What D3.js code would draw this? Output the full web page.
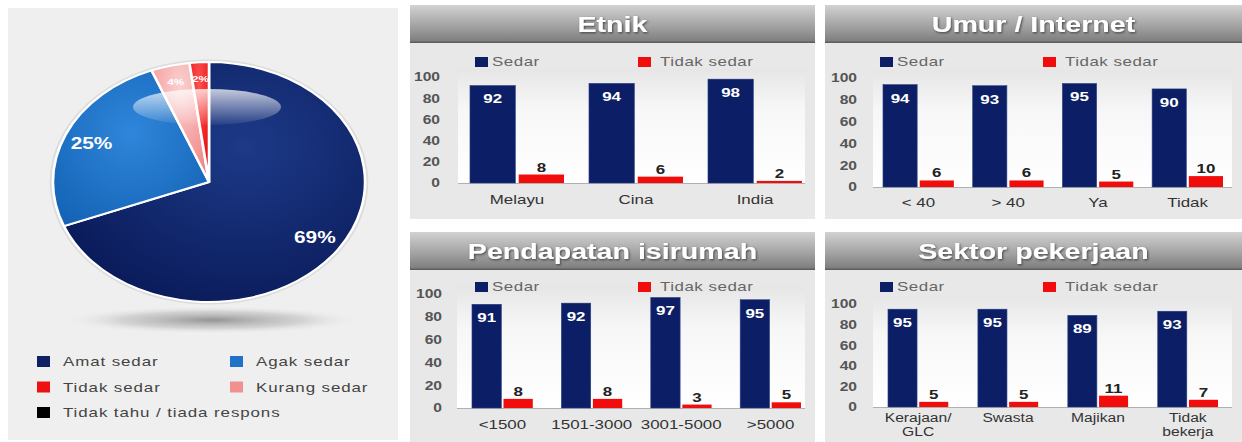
<!DOCTYPE html>
<html><head><meta charset="utf-8">
<script src="https://cdn.jsdelivr.net/npm/d3@7"></script>
<style>html,body{margin:0;padding:0;background:#fff;overflow:hidden}svg{display:block}</style>
</head><body><div id="chart"></div>
<script>
// ---------- DATA ----------
const pieLabels = ["Amat sedar", "Agak sedar", "Kurang sedar", "Tidak sedar", "Tidak tahu / tiada respons"];
const pieValues = [69, 25, 4, 2, 0];
const pieValueText = ["69%", "25%", "4%", "2%", ""];
const legendOrder = [0, 1, 3, 2, 4];

const seriesNames = ["Sedar", "Tidak sedar"];
const yTicks = [0, 20, 40, 60, 80, 100];

const etnikCats = ["Melayu", "Cina", "India"];
const etnikSedar = [92, 94, 98];
const etnikTidak = [8, 6, 2];

const umurCats = ["< 40", "> 40", "Ya", "Tidak"];
const umurSedar = [94, 93, 95, 90];
const umurTidak = [6, 6, 5, 10];

const pendCats = ["<1500", "1501-3000", "3001-5000", ">5000"];
const pendSedar = [91, 92, 97, 95];
const pendTidak = [8, 8, 3, 5];

const sektorCats = ["Kerajaan/\nGLC", "Swasta", "Majikan", "Tidak\nbekerja"];
const sektorSedar = [95, 95, 89, 93];
const sektorTidak = [5, 5, 11, 7];

// ---------- SETUP ----------
const W = 1242, H = 442, VW = 955, SX = W / VW;
const X = v => v / SX;
const FONT = "'Liberation Sans', Arial, Helvetica, sans-serif";
const NAVY = "#0c1f66", RED = "#f20d0d";

const svg = d3.select("#chart").append("svg")
  .attr("width", W).attr("height", H)
  .attr("viewBox", `0 0 ${VW} ${H}`)
  .attr("preserveAspectRatio", "none")
  .style("font-family", FONT);

const defs = svg.append("defs");
function linGrad(id, stops, x2 = 0, y2 = 1) {
  const g = defs.append("linearGradient").attr("id", id)
    .attr("x1", 0).attr("y1", 0).attr("x2", x2).attr("y2", y2);
  stops.forEach(s => g.append("stop").attr("offset", s[0]).attr("stop-color", s[1]).attr("stop-opacity", s[2] == null ? 1 : s[2]));
}
function radGrad(id, stops, cx = 0.5, cy = 0.5, r = 0.6) {
  const g = defs.append("radialGradient").attr("id", id).attr("cx", cx).attr("cy", cy).attr("r", r);
  stops.forEach(s => g.append("stop").attr("offset", s[0]).attr("stop-color", s[1]).attr("stop-opacity", s[2] == null ? 1 : s[2]));
}
linGrad("hdr", [[0, "#d2d2d2"], [0.55, "#a3a3a3"], [1, "#7a7a7a"]]);
linGrad("plotbg", [[0, "#e6e6e6"], [0.35, "#f7f7f7"], [1, "#ffffff"]]);
linGrad("gloss", [[0, "#ffffff", 0.75], [1, "#ffffff", 0.05]]);
radGrad("g0", [[0, "#1d3a88"], [1, "#0a1b5a"]], 0.6, 0.35, 0.7);
radGrad("g1", [[0, "#2f86da"], [1, "#1463b6"]], 0.5, 0.4, 0.7);
radGrad("g2", [[0, "#fbd0d0"], [1, "#ef7e7e"]], 0.5, 0.2, 0.9);
radGrad("g3", [[0, "#ff5050"], [1, "#e00000"]], 0.5, 0.2, 0.9);
radGrad("g4", [[0, "#333"], [1, "#000"]]);
radGrad("shadow", [[0, "#8a8a8a", 0.9], [0.6, "#b5b5b5", 0.5], [1, "#efefef", 0]], 0.5, 0.5, 0.5);
const f = defs.append("filter").attr("id", "tshadow").attr("x", "-10%").attr("y", "-30%").attr("width", "120%").attr("height", "160%");
f.append("feDropShadow").attr("dx", 0.8).attr("dy", 1.2).attr("stdDeviation", 0.8).attr("flood-color", "#333").attr("flood-opacity", 0.8);

const pieColors = ["url(#g0)", "url(#g1)", "url(#g2)", "url(#g3)", "url(#g4)"];
const legColors = ["#0e2263", "#1e73c8", "#f29090", "#ee1111", "#000000"];

// ---------- LEFT PANEL (PIE) ----------
svg.append("rect").attr("x", X(8)).attr("y", 8).attr("width", X(390)).attr("height", 432).attr("fill", "#efefef");

const cx = X(209), cy = 182, R = 120;
svg.append("ellipse").attr("cx", X(212)).attr("cy", 320).attr("rx", X(150)).attr("ry", 14).attr("fill", "url(#shadow)");
svg.append("circle").attr("cx", cx).attr("cy", cy).attr("r", R + 2.5).attr("fill", "#dcdcdc");

const pieGen = d3.pie().sort(null).value(d => d);
const arcs = pieGen(pieValues);
const arcGen = d3.arc().innerRadius(0).outerRadius(R);
const pg = svg.append("g").attr("transform", `translate(${cx},${cy})`);
pg.selectAll("path.slice").data(arcs.filter(a => a.value > 0)).join("path")
  .attr("class", "slice")
  .attr("d", arcGen)
  .attr("fill", d => pieColors[d.index])
  .attr("stroke", "#fff").attr("stroke-width", 2).attr("stroke-linejoin", "round");
// gloss
pg.append("ellipse").attr("cx", X(-2)).attr("cy", -75).attr("rx", X(74)).attr("ry", 18).attr("fill", "url(#gloss)");

const bigLab = d3.arc().innerRadius(R * 0.82).outerRadius(R * 0.82);
const smallLab = d3.arc().innerRadius(R * 0.86).outerRadius(R * 0.86);
pg.selectAll("text.plab").data(arcs.filter(a => a.value > 0)).join("text")
  .attr("class", "plab")
  .attr("transform", d => { const c = (d.value >= 10 ? bigLab : smallLab).centroid(d); return `translate(${c[0]},${c[1]})`; })
  .attr("text-anchor", "middle").attr("dy", "0.35em")
  .attr("fill", "#fff").attr("font-weight", "bold")
  .attr("font-size", d => d.value >= 10 ? 16 : 9)
  .text(d => pieValueText[d.index]);

// pie legend
const lg = svg.append("g");
legendOrder.forEach((idx, i) => {
  const col = i % 2, row = Math.floor(i / 2);
  const sx = col === 0 ? 37 : 230, ty = 362 + row * 25.5;
  lg.append("rect").attr("x", X(sx)).attr("y", ty - 6).attr("width", X(13)).attr("height", 11).attr("fill", legColors[idx]);
  lg.append("text").attr("x", X(sx + 26)).attr("y", ty + 4.5)
    .attr("font-size", 13).attr("fill", "#444").attr("letter-spacing", 0.7)
    .text(pieLabels[idx]);
});

// ---------- BAR PANELS ----------
const panels = [
  { title: "Etnik", cats: etnikCats, s: etnikSedar, t: etnikTidak, x: 410, w: 405, hy: 5, bEnd: 219,
    axisX: [458, 805], bandX: [470, 802], pi: 0.21, y0: 183, y100: 77, legY: 62, legX: [475, 638], catY: 204, tickX: 440, lh: 14, cfs: 13 },
  { title: "Umur / Internet", cats: umurCats, s: umurSedar, t: umurTidak, x: 825, w: 417, hy: 5, bEnd: 219,
    axisX: [873, 1232], bandX: [883, 1223], pi: 0.21, y0: 187, y100: 78, legY: 62, legX: [880, 1043], catY: 207, tickX: 857, lh: 14, cfs: 13 },
  { title: "Pendapatan isirumah", cats: pendCats, s: pendSedar, t: pendTidak, x: 410, w: 405, hy: 232, bEnd: 442,
    axisX: [457, 805], bandX: [472, 801], pi: 0.32, y0: 408, y100: 294, legY: 287, legX: [475, 638], catY: 429, tickX: 442, lh: 14, cfs: 13 },
  { title: "Sektor pekerjaan", cats: sektorCats, s: sektorSedar, t: sektorTidak, x: 825, w: 417, hy: 232, bEnd: 442,
    axisX: [873, 1232], bandX: [888, 1218], pi: 0.33, y0: 407, y100: 304, legY: 287, legX: [880, 1043], catY: 422, tickX: 857, lh: 13.6, cfs: 12 }
];

panels.forEach(p => {
  const g = svg.append("g");
  const HH = 38;
  g.append("rect").attr("x", X(p.x)).attr("y", p.hy + HH).attr("width", X(p.w)).attr("height", p.bEnd - p.hy - HH).attr("fill", "#e8e8e8");
  g.append("rect").attr("x", X(p.x)).attr("y", p.hy).attr("width", X(p.w)).attr("height", HH).attr("fill", "url(#hdr)");
  g.append("rect").attr("x", X(p.x)).attr("y", p.hy + HH - 1.5).attr("width", X(p.w)).attr("height", 1.5).attr("fill", "#5e5e5e");
  g.append("text").attr("x", X(p.x + p.w / 2)).attr("y", p.hy + 27)
    .attr("text-anchor", "middle").attr("font-size", 22).attr("font-weight", "bold")
    .attr("fill", "#fff").attr("filter", "url(#tshadow)").text(p.title);

  // plot background
  g.append("rect").attr("x", X(p.axisX[0])).attr("y", p.y100 - 8).attr("width", X(p.axisX[1] - p.axisX[0]))
    .attr("height", p.y0 - p.y100 + 8).attr("fill", "url(#plotbg)");

  const y = d3.scaleLinear().domain([0, 100]).range([p.y0, p.y100]);
  const x0 = d3.scaleBand().domain(p.cats).range([X(p.bandX[0]), X(p.bandX[1])]).paddingInner(p.pi).paddingOuter(0);
  const x1 = d3.scaleBand().domain(seriesNames).range([0, x0.bandwidth()]).paddingInner(0.07);

  // y axis
  const ax = g.append("g").attr("transform", `translate(${X(p.tickX)},0)`)
    .call(d3.axisLeft(y).tickValues(yTicks).tickSize(0).tickPadding(0));
  ax.select(".domain").remove();
  ax.selectAll("text").attr("font-family", FONT).attr("font-size", 12).attr("font-weight", "bold").attr("fill", "#555");

  // baseline
  g.append("line").attr("x1", X(p.axisX[0])).attr("x2", X(p.axisX[1])).attr("y1", p.y0 + 0.5).attr("y2", p.y0 + 0.5)
    .attr("stroke", "#b0b0b0").attr("stroke-width", 1);

  const rows = p.cats.map((c, i) => ({ cat: c, vals: [p.s[i], p.t[i]] }));
  const grp = g.selectAll("g.grp").data(rows).join("g").attr("class", "grp")
    .attr("transform", d => `translate(${x0(d.cat)},0)`);
  grp.selectAll("rect").data(d => d.vals.map((v, k) => ({ k, v }))).join("rect")
    .attr("x", d => x1(seriesNames[d.k])).attr("width", x1.bandwidth())
    .attr("y", d => y(d.v)).attr("height", d => y(0) - y(d.v))
    .attr("fill", d => d.k === 0 ? NAVY : RED)
    .attr("stroke", d => d.k === 0 ? "#2a3f85" : "none").attr("stroke-width", 0.5);
  grp.selectAll("text").data(d => d.vals.map((v, k) => ({ k, v }))).join("text")
    .attr("x", d => x1(seriesNames[d.k]) + x1.bandwidth() / 2)
    .attr("y", d => d.k === 0 ? y(d.v) + 18 : y(d.v) - 3)
    .attr("text-anchor", "middle").attr("font-size", 13).attr("font-weight", "bold")
    .attr("fill", d => d.k === 0 ? "#fff" : "#222")
    .text(d => d.v);

  // category labels (one text per line)
  p.cats.forEach(c => {
    c.split("\n").forEach((line, li) => {
      g.append("text").attr("class", "cat")
        .attr("x", x0(c) + x0.bandwidth() / 2).attr("y", p.catY + li * p.lh)
        .attr("text-anchor", "middle").attr("font-size", p.cfs).attr("fill", "#333")
        .text(line);
    });
  });

  // legend
  seriesNames.forEach((n, k) => {
    g.append("rect").attr("x", X(p.legX[k])).attr("y", p.legY - 5).attr("width", X(13)).attr("height", 10)
      .attr("fill", k === 0 ? NAVY : RED);
    g.append("text").attr("x", X(p.legX[k] + (k === 0 ? 17 : 22))).attr("y", p.legY + 4.5)
      .attr("font-size", 13).attr("fill", "#666").attr("letter-spacing", 0.4).text(n);
  });
});
</script>
</body></html>
